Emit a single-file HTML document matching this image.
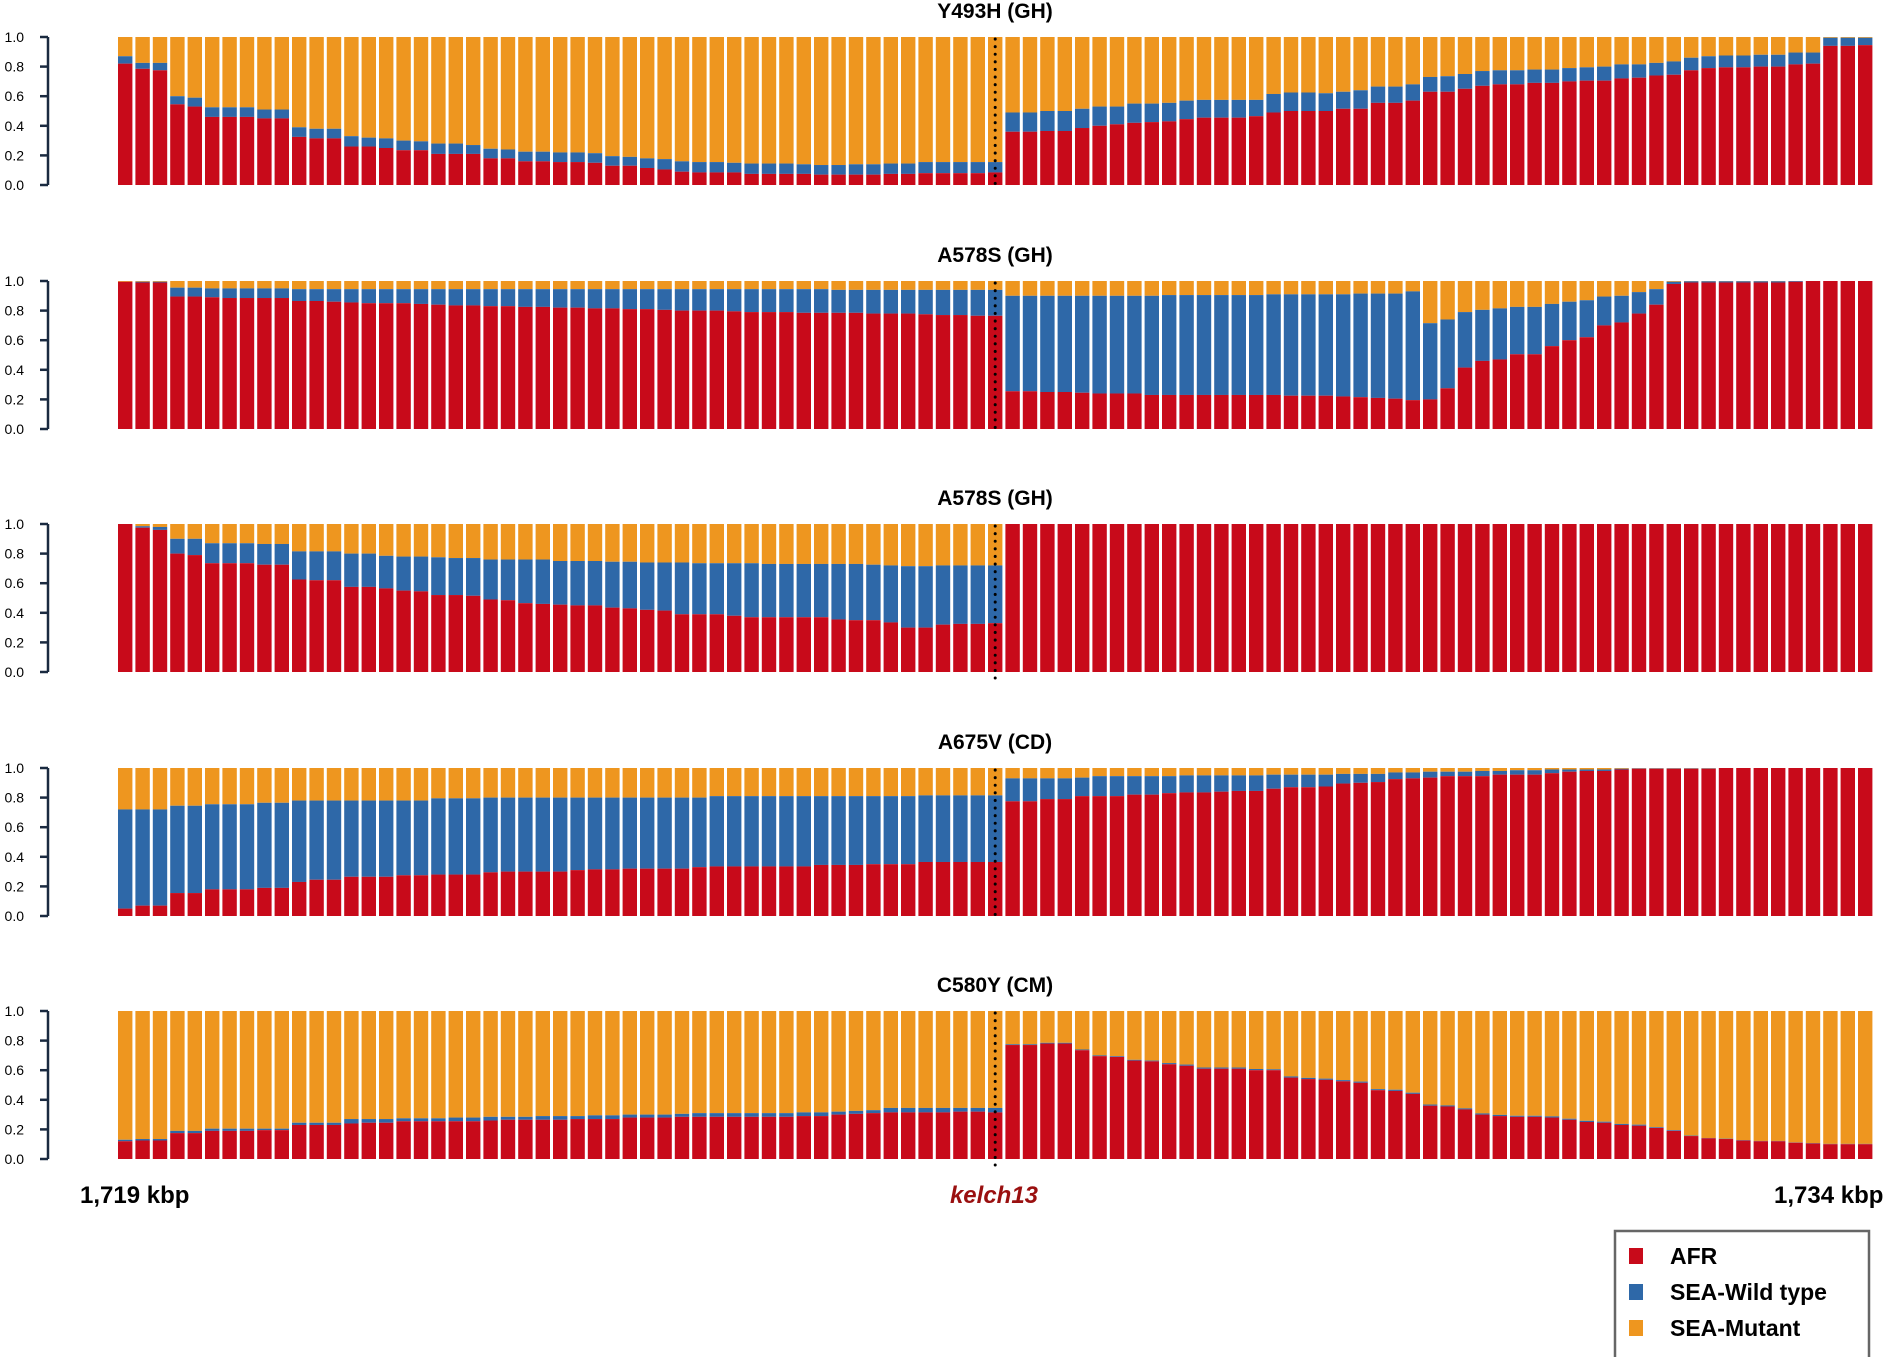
<!DOCTYPE html>
<html><head><meta charset="utf-8"><style>
html,body{margin:0;padding:0;background:#fff;}
svg{display:block;}
text{font-family:"Liberation Sans",sans-serif;}
</style></head>
<body>
<svg id="chart" width="1890" height="1357" viewBox="0 0 1890 1357" xmlns="http://www.w3.org/2000/svg">
<g id="panels"></g>
<text x="80" y="1203" font-size="24" font-weight="bold">1,719 kbp</text>
<text x="994" y="1203" font-size="24" font-weight="bold" font-style="italic" fill="#9a1010" text-anchor="middle">kelch13</text>
<text x="1774" y="1203" font-size="24" font-weight="bold">1,734 kbp</text>
<g>
<rect x="1615" y="1231" width="254" height="130" fill="#fff" stroke="#666" stroke-width="2.5"/>
<g><rect x="1629" y="1248" width="14" height="16" fill="#c80a1a"/><text x="1670" y="1264" font-size="23" font-weight="bold">AFR</text></g>
<g><rect x="1629" y="1284" width="14" height="16" fill="#2e68a8"/><text x="1670" y="1300" font-size="23" font-weight="bold">SEA-Wild type</text></g>
<g><rect x="1629" y="1320" width="14" height="16" fill="#ee961f"/><text x="1670" y="1336" font-size="23" font-weight="bold">SEA-Mutant</text></g>
</g>
</svg>
<script>
const titles = ["Y493H (GH)", "A578S (GH)", "A578S (GH)", "A675V (CD)", "C580Y (CM)"];
const yTicks = [0, 0.2, 0.4, 0.6, 0.8, 1.0];
const yTickLabels = ["0.0", "0.2", "0.4", "0.6", "0.8", "1.0"];
// AFR share per window (101 windows), and AFR+SEA-Wild cumulative share
const afr1 = [.82,.785,.775,.545,.53,.46,.46,.46,.45,.45,.325,.315,.315,.26,.26,.25,.235,.235,.21,.21,.21,.18,.18,.16,.16,.155,.155,.15,.13,.13,.115,.105,.09,.085,.085,.085,.075,.075,.075,.075,.07,.07,.07,.07,.075,.075,.08,.08,.08,.08,.085,
.36,.36,.365,.365,.385,.40,.41,.42,.425,.43,.445,.455,.455,.455,.465,.49,.50,.50,.50,.515,.515,.555,.555,.57,.63,.63,.65,.67,.68,.68,.69,.69,.70,.705,.705,.72,.725,.74,.745,.775,.79,.795,.795,.80,.80,.815,.82,.94,.94,.945];
const cum1 = [.87,.825,.825,.60,.59,.525,.525,.525,.51,.51,.39,.38,.38,.33,.32,.315,.30,.295,.28,.28,.27,.245,.24,.225,.225,.22,.22,.215,.195,.19,.18,.175,.16,.155,.155,.15,.145,.145,.145,.14,.135,.135,.14,.14,.145,.145,.155,.155,.155,.155,.155,
.49,.49,.50,.50,.515,.53,.53,.55,.55,.555,.57,.575,.575,.575,.575,.615,.625,.625,.62,.63,.64,.665,.665,.68,.73,.735,.75,.77,.775,.775,.78,.78,.79,.795,.80,.815,.815,.825,.835,.86,.87,.875,.875,.88,.88,.895,.895,.995,.995,.995];
const afr2 = [.995,.99,.99,.895,.895,.89,.885,.885,.885,.885,.865,.865,.86,.855,.85,.85,.85,.845,.84,.835,.835,.83,.83,.825,.825,.82,.82,.815,.815,.81,.81,.805,.80,.80,.80,.795,.79,.79,.79,.785,.785,.785,.785,.78,.78,.78,.775,.77,.77,.765,.765,
.255,.255,.25,.25,.245,.24,.24,.24,.23,.23,.23,.23,.23,.23,.23,.23,.225,.225,.225,.22,.215,.21,.205,.195,.20,.275,.415,.46,.47,.505,.505,.56,.60,.62,.70,.72,.78,.84,.98,.99,.99,.99,.99,.99,.99,.995,1,1,1,1];
const cum2 = [.995,.995,.995,.955,.955,.95,.95,.95,.95,.95,.945,.945,.945,.945,.945,.945,.945,.945,.945,.945,.945,.945,.945,.945,.945,.945,.945,.945,.945,.945,.945,.945,.945,.945,.945,.945,.945,.945,.945,.945,.945,.94,.94,.94,.94,.94,.94,.94,.94,.94,.94,
.90,.90,.90,.90,.90,.90,.90,.90,.90,.905,.905,.905,.905,.905,.905,.91,.91,.91,.91,.91,.915,.915,.915,.93,.715,.74,.79,.805,.815,.825,.825,.845,.86,.87,.895,.90,.925,.945,.995,.998,.998,.998,.998,.998,.998,1,1,1,1,1];
const afr3 = [1,.975,.96,.80,.79,.735,.735,.735,.725,.725,.625,.62,.62,.575,.575,.565,.55,.545,.52,.52,.515,.49,.485,.465,.46,.455,.45,.45,.435,.43,.42,.415,.39,.39,.39,.38,.37,.37,.37,.37,.37,.355,.35,.35,.335,.30,.30,.32,.325,.325,.33,
1,1,1,1,1,1,1,1,1,1,1,1,1,1,1,1,1,1,1,1,1,1,1,1,1,1,1,1,1,1,1,1,1,1,1,1,1,1,1,1,1,1,1,1,1,1,1,1,1,1];
const cum3 = [1,.985,.98,.90,.90,.87,.87,.87,.865,.865,.815,.815,.815,.80,.80,.785,.78,.78,.775,.77,.77,.76,.76,.76,.76,.75,.75,.75,.745,.745,.74,.74,.74,.735,.735,.735,.735,.73,.73,.73,.73,.73,.73,.725,.72,.715,.715,.72,.72,.72,.72,
1,1,1,1,1,1,1,1,1,1,1,1,1,1,1,1,1,1,1,1,1,1,1,1,1,1,1,1,1,1,1,1,1,1,1,1,1,1,1,1,1,1,1,1,1,1,1,1,1,1];
const afr4 = [.05,.07,.07,.155,.155,.18,.18,.18,.19,.19,.23,.245,.245,.265,.265,.265,.275,.275,.28,.28,.28,.295,.30,.30,.30,.30,.31,.315,.315,.32,.32,.32,.32,.33,.335,.335,.335,.335,.335,.335,.345,.345,.345,.35,.35,.35,.365,.365,.365,.365,.365,
.775,.775,.79,.79,.81,.81,.81,.82,.82,.83,.835,.835,.84,.845,.845,.86,.87,.87,.875,.895,.90,.905,.925,.93,.935,.945,.945,.945,.955,.955,.955,.965,.975,.98,.98,.99,.995,.995,.995,.995,.995,1,1,1,1,1,1,1,1,1];
const cum4 = [.72,.72,.72,.745,.745,.755,.755,.755,.765,.765,.78,.78,.78,.78,.78,.78,.78,.78,.795,.795,.795,.80,.80,.80,.80,.80,.80,.80,.80,.80,.80,.80,.80,.80,.81,.81,.81,.81,.81,.81,.81,.81,.81,.81,.81,.81,.815,.815,.815,.815,.815,
.93,.93,.93,.93,.935,.945,.945,.945,.945,.945,.95,.95,.95,.95,.95,.955,.955,.955,.955,.96,.96,.96,.97,.97,.975,.975,.975,.98,.98,.985,.985,.99,.99,.99,.99,.995,.998,.998,.998,.998,.998,1,1,1,1,1,1,1,1,1];
const afr5 = [.12,.125,.125,.175,.175,.19,.19,.19,.195,.195,.23,.23,.23,.24,.245,.245,.255,.255,.255,.255,.255,.26,.265,.265,.265,.265,.27,.27,.27,.28,.28,.28,.285,.285,.285,.285,.285,.285,.285,.29,.29,.30,.305,.31,.315,.315,.315,.315,.32,.32,.315,
.77,.77,.78,.78,.735,.695,.69,.665,.66,.64,.63,.61,.61,.61,.60,.60,.55,.54,.535,.525,.515,.465,.46,.44,.36,.355,.335,.30,.29,.285,.285,.28,.265,.25,.245,.23,.225,.21,.19,.155,.14,.135,.125,.12,.12,.11,.105,.10,.10,.10];
const cum5 = [.13,.135,.135,.19,.19,.205,.205,.205,.205,.205,.245,.245,.245,.27,.27,.27,.275,.275,.275,.28,.28,.285,.285,.285,.29,.29,.29,.295,.295,.30,.30,.30,.305,.31,.31,.31,.31,.31,.31,.315,.315,.32,.325,.33,.345,.345,.345,.345,.345,.345,.345,
.775,.775,.785,.785,.74,.70,.695,.67,.665,.648,.638,.618,.618,.618,.608,.606,.558,.548,.543,.533,.523,.472,.468,.448,.368,.362,.342,.308,.298,.292,.292,.288,.272,.258,.252,.237,.232,.215,.195,.158,.142,.137,.127,.122,.122,.112,.107,.102,.102,.102];
const afrSeries = [afr1, afr2, afr3, afr4, afr5];
const cumSeries = [cum1, cum2, cum3, cum4, cum5];
const kelchIndex = 50;

const NS = "http://www.w3.org/2000/svg";
const panelTops = [37, 281, 524, 768, 1011];
const PH = 148, X0 = 118, PITCH = 17.4, BW = 14.4;
const xPos = i => X0 + i * PITCH;
const yPos = (top, v) => top + PH * (1 - v);
function mk(tag, attrs) { const e = document.createElementNS(NS, tag); for (const k in attrs) e.setAttribute(k, attrs[k]); return e; }
const root = document.getElementById("panels");
titles.forEach((t, p) => {
  const top = panelTops[p];
  const g = mk("g", {});
  
  
  root.appendChild(g);
  const title = mk("text", {x: 995, y: top - 19, "font-size": 21, "font-weight": "bold", "text-anchor": "middle"});
  title.textContent = t;
  
  
  g.appendChild(title);
  const ax = mk("line", {x1: 48, x2: 48, y1: top, y2: top + PH, stroke: "#1a2a40", "stroke-width": 2.5});
  
  
  g.appendChild(ax);
  yTicks.forEach((v, k) => {
    const y = yPos(top, v);
    const tk = mk("line", {x1: 40, x2: 48, y1: y, y2: y, stroke: "#1a2a40", "stroke-width": 2.5});
    
    
    g.appendChild(tk);
    const lb = mk("text", {x: 24, y: y + 5, "font-size": 14, "text-anchor": "end"});
    lb.textContent = yTickLabels[k];
    
    
    g.appendChild(lb);
  });
  const afr = afrSeries[p], cum = cumSeries[p];
  afr.forEach((a, i) => {
    const x = xPos(i);
    const c = Math.max(cum[i], a);
    const o = mk("rect", {x: x, y: top, width: BW, height: yPos(top, c) - top, fill: "#ee961f"});
    
    
    g.appendChild(o);
    const b = mk("rect", {x: x, y: yPos(top, c), width: BW, height: yPos(top, a) - yPos(top, c), fill: "#2e68a8"});
    
    
    g.appendChild(b);
    const r = mk("rect", {x: x, y: yPos(top, a), width: BW, height: top + PH - yPos(top, a), fill: "#c80a1a"});
    
    
    g.appendChild(r);
  });
  const kx = xPos(kelchIndex) + BW / 2;
  const dl = mk("line", {x1: kx, x2: kx, y1: top + 2, y2: top + PH + 6, stroke: "#000", "stroke-width": 3, "stroke-dasharray": "0.1 7.5", "stroke-linecap": "round"});
  
  
  g.appendChild(dl);
});
</script>
</body></html>
